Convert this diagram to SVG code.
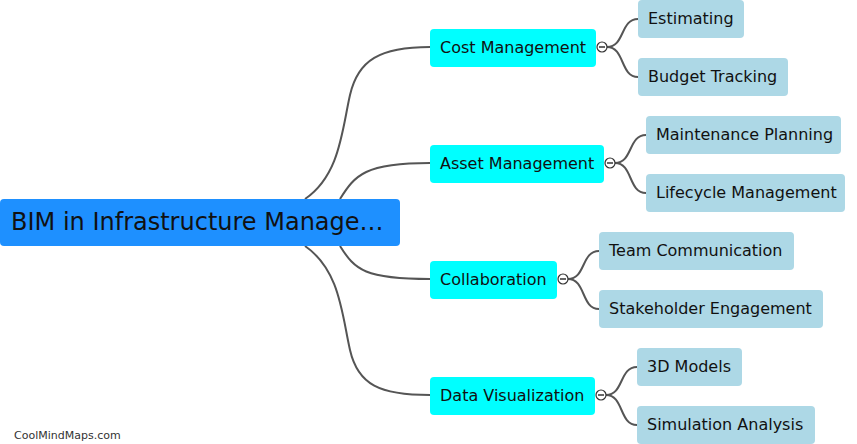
<svg xmlns="http://www.w3.org/2000/svg" width="857" height="444" viewBox="0 0 857 444">
<style>
text{font-family:"DejaVu Sans",Verdana,sans-serif;fill:#111;dominant-baseline:central}
.root rect{fill:#1E90FF}
.root text{font-size:24px}
.l1 rect{fill:#00FFFF}
.l1 text{font-size:16px}
.l2 rect{fill:#ADD8E6}
.l2 text{font-size:16px}
.conn path{fill:none;stroke:#555;stroke-width:2}
.tog circle{fill:#fff;stroke:#333;stroke-width:1.2}
.tog line{stroke:#333;stroke-width:1.5}
.wm{font-size:11px;fill:#333}
</style>
<g id="connectors" class="conn">
<path d="M305,199 C340,175 342,130 350,95 C358,60 380,47 430,47"/>
<path d="M340,199 C355,175 365,163 430,163"/>
<path d="M340,246 C355,270 365,279 430,279"/>
<path d="M305,246 C340,270 342,315 350,350 C358,385 380,395 430,395"/>
<path d="M607,47 C625,47 620,19 638,19"/>
<path d="M607,47 C625,47 620,77 638,77"/>
<path d="M615,163 C633,163 628,135 646,135"/>
<path d="M615,163 C633,163 628,193 646,193"/>
<path d="M568,279 C586,279 581,251 599,251"/>
<path d="M568,279 C586,279 581,309 599,309"/>
<path d="M606,395 C624,395 619,367 637,367"/>
<path d="M606,395 C624,395 619,425 637,425"/>
</g>
<g id="root" class="root"><rect x="0" y="199" width="400" height="47" rx="4"/><text x="11" y="222">BIM in Infrastructure Manage…</text></g>
<g id="cost" class="l1"><rect x="430" y="29" width="166" height="38" rx="4"/><text x="440" y="47">Cost Management</text></g>
<g id="asset" class="l1"><rect x="430" y="145" width="174" height="38" rx="4"/><text x="440" y="163">Asset Management</text></g>
<g id="collab" class="l1"><rect x="430" y="261" width="127" height="38" rx="4"/><text x="440" y="279">Collaboration</text></g>
<g id="dataviz" class="l1"><rect x="430" y="377" width="165" height="38" rx="4"/><text x="440" y="395">Data Visualization</text></g>
<g class="tog"><circle cx="602" cy="47" r="5"/><line x1="599" y1="47" x2="605" y2="47"/></g>
<g class="tog"><circle cx="610" cy="163" r="5"/><line x1="607" y1="163" x2="613" y2="163"/></g>
<g class="tog"><circle cx="563" cy="279" r="5"/><line x1="560" y1="279" x2="566" y2="279"/></g>
<g class="tog"><circle cx="601" cy="395" r="5"/><line x1="598" y1="395" x2="604" y2="395"/></g>
<g id="estimating" class="l2"><rect x="638" y="0" width="106" height="38" rx="4"/><text x="648" y="18">Estimating</text></g>
<g id="budget" class="l2"><rect x="638" y="58" width="150" height="38" rx="4"/><text x="648" y="76">Budget Tracking</text></g>
<g id="maint" class="l2"><rect x="646" y="116" width="195" height="38" rx="4"/><text x="656" y="134">Maintenance Planning</text></g>
<g id="lifecycle" class="l2"><rect x="646" y="174" width="199" height="38" rx="4"/><text x="656" y="192">Lifecycle Management</text></g>
<g id="team" class="l2"><rect x="599" y="232" width="195" height="38" rx="4"/><text x="609" y="250">Team Communication</text></g>
<g id="stake" class="l2"><rect x="599" y="290" width="224" height="38" rx="4"/><text x="609" y="308">Stakeholder Engagement</text></g>
<g id="models" class="l2"><rect x="637" y="348" width="105" height="38" rx="4"/><text x="647" y="366">3D Models</text></g>
<g id="sim" class="l2"><rect x="637" y="406" width="178" height="38" rx="4"/><text x="647" y="424">Simulation Analysis</text></g>
<text class="wm" x="14" y="435">CoolMindMaps.com</text>
</svg>
